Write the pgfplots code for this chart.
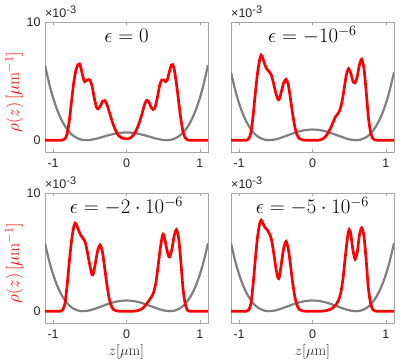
\documentclass[border=0pt]{standalone}
\usepackage{fontspec}
\usepackage{pgfplots}
\pgfplotsset{compat=1.18}
\newfontfamily\helv{Liberation Sans}
\definecolor{boxgray}{HTML}{A6A6A6}
\definecolor{txtgray}{HTML}{262626}
\definecolor{potgray}{HTML}{7F7F7F}

\pgfplotsset{
  panel/.style={
    scale only axis, width=163pt, height=130pt,
    xmin=-1.11, xmax=1.11, ymin=-1, ymax=10,
    clip mode=individual,
    xtick={-1,0,1}, xticklabels={-1,0,1},
    ytick={0,10}, yticklabels={0,10},
    axis line style={draw=boxgray, line width=0.7pt},
    major tick style={draw=boxgray, line width=0.7pt},
    tick align=inside, major tick length=3pt,
    ticklabel style={font=\helv\fontsize{12.5}{14}\selectfont, text=txtgray},
    xticklabel style={yshift=-3pt},
    yticklabel style={xshift=-1pt},
  },
  pot/.style={potgray, line width=2.2pt, smooth, tension=0.5},
  dens/.style={red, line width=2.7pt, smooth, tension=0.4},
}
\newcommand{\exptag}{\node[anchor=base west, inner sep=0pt, text=txtgray,
  font=\helv\fontsize{12.5}{14}\selectfont] at ([yshift=4pt]axis description cs:0,1) {×10\textsuperscript{\fontsize{11}{12}\selectfont-3}};}
\newcommand{\ttl}[1]{\node[anchor=base, font=\fontsize{21}{24}\selectfont] at (axis description cs:0.5,0.84) {#1};}
\newcommand{\ylab}{\node[rotate=90, text=red, font=\fontsize{17}{19}\selectfont] at (axis description cs:-0.19,0.46) {$\rho(z)\,[\mu\mathrm{m}^{-1}]$};}
\newcommand{\xlab}{\node[text=txtgray, font=\fontsize{15}{18}\selectfont] at (axis description cs:0.5,-0.225) {$z[\mu\mathrm{m}]$};}

% potential, eps = 0
\pgfplotstableread{
z V
-1.11 6.36
-1.05 4.71
-1.00 3.59
-0.95 2.66
-0.90 1.91
-0.85 1.31
-0.80 0.85
-0.75 0.51
-0.70 0.27
-0.65 0.11
-0.60 0.03
-0.55 0.00
-0.50 0.02
-0.45 0.07
-0.40 0.14
-0.35 0.23
-0.30 0.32
-0.25 0.41
-0.20 0.49
-0.15 0.56
-0.10 0.61
-0.05 0.64
0.00 0.65
0.05 0.64
0.10 0.61
0.15 0.56
0.20 0.49
0.25 0.41
0.30 0.32
0.35 0.23
0.40 0.14
0.45 0.07
0.50 0.02
0.55 0.00
0.60 0.03
0.65 0.11
0.70 0.27
0.75 0.51
0.80 0.85
0.85 1.31
0.90 1.91
0.95 2.66
1.00 3.59
1.05 4.71
1.11 6.36
}\potA

% potential, eps < 0
\pgfplotstableread{
z V
-1.11 5.74
-1.05 4.18
-1.00 3.12
-0.95 2.25
-0.90 1.56
-0.85 1.03
-0.80 0.62
-0.75 0.33
-0.70 0.15
-0.65 0.04
-0.60 0.00
-0.55 0.02
-0.50 0.07
-0.45 0.16
-0.40 0.27
-0.35 0.38
-0.30 0.50
-0.25 0.61
-0.20 0.71
-0.15 0.79
-0.10 0.85
-0.05 0.89
0.00 0.90
0.05 0.89
0.10 0.85
0.15 0.79
0.20 0.71
0.25 0.61
0.30 0.50
0.35 0.38
0.40 0.27
0.45 0.16
0.50 0.07
0.55 0.02
0.60 0.00
0.65 0.04
0.70 0.15
0.75 0.33
0.80 0.62
0.85 1.03
0.90 1.56
0.95 2.25
1.00 3.12
1.05 4.18
1.11 5.74
}\potB

\pgfplotstableread{
z rho
-1.11 0
-0.88 0
-0.84 0.1
-0.81 0.5
-0.78 1.6
-0.75 3.2
-0.72 4.8
-0.69 5.9
-0.66 6.4
-0.64 6.45
-0.62 6.1
-0.595 5.4
-0.57 4.95
-0.535 5.1
-0.50 5.1
-0.47 4.6
-0.44 3.6
-0.41 2.8
-0.385 2.65
-0.355 2.9
-0.325 3.3
-0.295 3.35
-0.265 3.0
-0.23 2.3
-0.19 1.5
-0.15 0.85
-0.11 0.4
-0.06 0.18
0.00 0.12
0.05 0.18
0.09 0.4
0.13 0.8
0.17 1.4
0.21 2.2
0.24 2.9
0.27 3.35
0.30 3.3
0.33 2.85
0.36 2.6
0.39 2.8
0.42 3.6
0.45 4.6
0.48 5.1
0.51 5.1
0.53 4.95
0.555 5.1
0.58 5.7
0.61 6.35
0.63 6.4
0.65 6.0
0.68 4.8
0.71 3.3
0.74 1.8
0.77 0.7
0.80 0.2
0.83 0.03
0.86 0
1.11 0
}\rhoA

\pgfplotstableread{
z rho
-1.11 0
-0.90 0
-0.87 0.1
-0.84 0.6
-0.81 2.0
-0.78 3.9
-0.75 5.6
-0.72 6.8
-0.70 7.2
-0.68 7.0
-0.65 6.4
-0.62 6.0
-0.59 5.8
-0.56 5.5
-0.53 4.8
-0.50 4.0
-0.47 3.45
-0.45 3.5
-0.42 4.2
-0.39 4.9
-0.36 5.15
-0.33 4.7
-0.30 3.5
-0.27 2.2
-0.24 1.1
-0.21 0.45
-0.18 0.15
-0.14 0.03
-0.10 0
0.08 0
0.12 0.05
0.16 0.2
0.20 0.5
0.24 0.95
0.28 1.5
0.31 1.95
0.34 2.2
0.37 2.5
0.40 3.2
0.43 4.3
0.46 5.5
0.49 6.05
0.52 5.7
0.55 5.0
0.58 4.85
0.61 5.4
0.64 6.4
0.67 6.85
0.70 6.1
0.73 4.2
0.76 2.0
0.79 0.7
0.82 0.15
0.85 0.02
0.88 0
1.11 0
}\rhoB

\pgfplotstableread{
z rho
-1.11 0
-0.90 0
-0.87 0.1
-0.84 0.6
-0.81 2.1
-0.78 4.1
-0.75 5.9
-0.72 7.1
-0.70 7.45
-0.68 7.3
-0.65 6.8
-0.62 6.4
-0.59 6.15
-0.56 5.8
-0.53 4.9
-0.50 3.9
-0.47 3.1
-0.45 3.2
-0.42 4.2
-0.39 5.2
-0.36 5.6
-0.33 5.1
-0.30 3.8
-0.27 2.4
-0.24 1.2
-0.21 0.5
-0.18 0.15
-0.14 0.03
-0.10 0
0.10 0
0.14 0.03
0.18 0.1
0.22 0.25
0.26 0.5
0.30 0.85
0.34 1.2
0.37 1.6
0.40 2.4
0.43 3.8
0.46 5.3
0.49 6.4
0.51 6.45
0.54 5.5
0.57 4.7
0.59 4.6
0.62 5.3
0.65 6.4
0.68 6.9
0.71 6.2
0.74 4.2
0.77 1.9
0.80 0.6
0.83 0.1
0.86 0
1.11 0
}\rhoC

\pgfplotstableread{
z rho
-1.11 0
-0.90 0
-0.87 0.1
-0.84 0.6
-0.81 2.2
-0.78 4.3
-0.75 6.2
-0.72 7.4
-0.70 7.7
-0.68 7.5
-0.65 7.1
-0.62 6.9
-0.59 6.6
-0.56 6.1
-0.53 5.0
-0.50 3.7
-0.47 2.8
-0.45 2.9
-0.42 4.2
-0.39 5.4
-0.36 5.9
-0.33 5.3
-0.30 3.9
-0.27 2.4
-0.24 1.2
-0.21 0.5
-0.18 0.15
-0.14 0.03
-0.10 0
0.12 0
0.16 0.02
0.20 0.07
0.24 0.15
0.28 0.3
0.32 0.55
0.36 1.0
0.39 1.7
0.42 3.0
0.45 4.8
0.48 6.4
0.50 6.9
0.52 6.6
0.55 5.2
0.58 4.4
0.61 5.0
0.64 6.5
0.67 7.05
0.70 6.4
0.73 4.4
0.76 2.0
0.79 0.7
0.82 0.15
0.85 0.02
0.88 0
1.11 0
}\rhoD

\begin{document}
\begin{tikzpicture}
\useasboundingbox (0,0) rectangle (415pt,363pt);

\begin{axis}[panel, at={(45pt,211pt)}, anchor=south west]
\addplot[pot] table[x=z,y=V] {\potA};
\addplot[dens] table[x=z,y=rho] {\rhoA};
\exptag \ttl{$\epsilon=0$} \ylab
\end{axis}

\begin{axis}[panel, at={(231pt,211pt)}, anchor=south west, yticklabels={}]
\addplot[pot] table[x=z,y=V] {\potB};
\addplot[dens] table[x=z,y=rho] {\rhoB};
\exptag \ttl{$\epsilon=-10^{-6}$}
\end{axis}

\begin{axis}[panel, at={(45pt,40pt)}, anchor=south west]
\addplot[pot] table[x=z,y=V] {\potB};
\addplot[dens] table[x=z,y=rho] {\rhoC};
\exptag \ttl{$\epsilon=-2\cdot10^{-6}$} \ylab \xlab
\end{axis}

\begin{axis}[panel, at={(231pt,40pt)}, anchor=south west, yticklabels={}]
\addplot[pot] table[x=z,y=V] {\potB};
\addplot[dens] table[x=z,y=rho] {\rhoD};
\exptag \ttl{$\epsilon=-5\cdot10^{-6}$} \xlab
\end{axis}
\end{tikzpicture}
\end{document}
